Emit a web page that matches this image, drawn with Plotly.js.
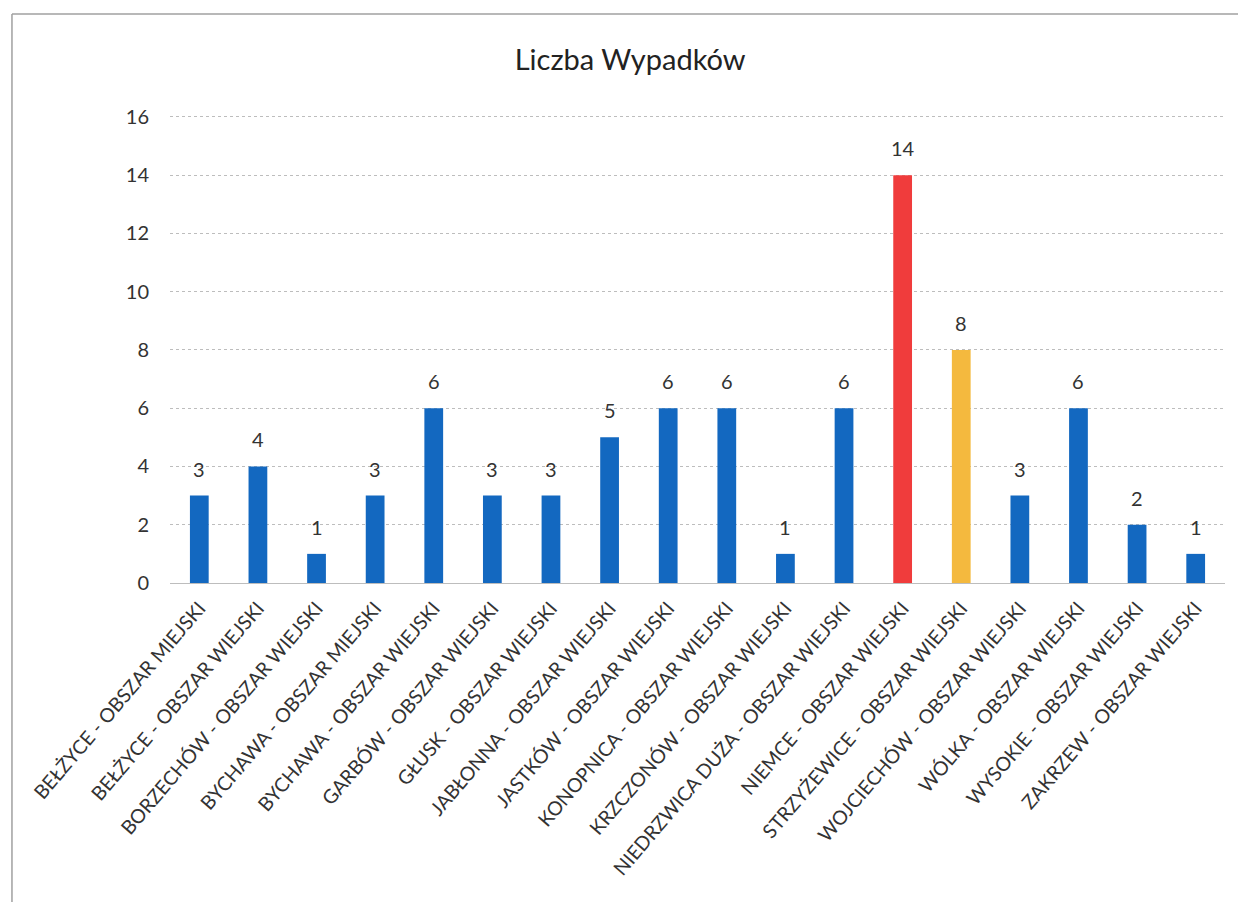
<!DOCTYPE html>
<html>
<head>
<meta charset="utf-8">
<script src="https://cdn.plot.ly/plotly-3.0.1.min.js"></script>
<style>html,body{margin:0;padding:0;background:#fff;}#chart{width:1238px;height:902px;}</style>
</head>
<body>
<div id="chart"></div>
<script>
const categories = [
  "BEŁŻYCE - OBSZAR MIEJSKI",
  "BEŁŻYCE - OBSZAR WIEJSKI",
  "BORZECHÓW - OBSZAR WIEJSKI",
  "BYCHAWA - OBSZAR MIEJSKI",
  "BYCHAWA - OBSZAR WIEJSKI",
  "GARBÓW - OBSZAR WIEJSKI",
  "GŁUSK - OBSZAR WIEJSKI",
  "JABŁONNA - OBSZAR WIEJSKI",
  "JASTKÓW - OBSZAR WIEJSKI",
  "KONOPNICA - OBSZAR WIEJSKI",
  "KRZCZONÓW - OBSZAR WIEJSKI",
  "NIEDRZWICA DUŻA - OBSZAR WIEJSKI",
  "NIEMCE - OBSZAR WIEJSKI",
  "STRZYŻEWICE - OBSZAR WIEJSKI",
  "WOJCIECHÓW - OBSZAR WIEJSKI",
  "WÓLKA - OBSZAR WIEJSKI",
  "WYSOKIE - OBSZAR WIEJSKI",
  "ZAKRZEW - OBSZAR WIEJSKI"
];
const values = [3, 4, 1, 3, 6, 3, 3, 5, 6, 6, 1, 6, 14, 8, 3, 6, 2, 1];
const barColors = ["#1368c0","#1368c0","#1368c0","#1368c0","#1368c0","#1368c0","#1368c0","#1368c0","#1368c0","#1368c0","#1368c0","#1368c0","#f03c3c","#f4b93e","#1368c0","#1368c0","#1368c0","#1368c0"];
const yTicks = [0, 2, 4, 6, 8, 10, 12, 14, 16];

const FONT = "Lato, 'Open Sans', sans-serif";

const trace = {
  type: "bar",
  x: categories,
  y: values,
  marker: {color: barColors},
  hoverinfo: "x+y"
};

const labels = categories.map((c, i) => ({
  x: c, y: values[i], xref: "x", yref: "y",
  text: String(values[i]), showarrow: false,
  yanchor: "middle", yshift: 27,
  font: {family: FONT, size: 20, color: "#333"}
}));

const layout = {
  width: 1238, height: 902,
  paper_bgcolor: "#fff", plot_bgcolor: "#fff",
  margin: {l: 170, r: 13, t: 114, b: 319},
  bargap: 0.68,
  showlegend: false,
  title: {text: "Liczba Wypadków", x: 0.509, xanchor: "center", y: 0.934, yanchor: "middle",
          font: {family: FONT, size: 29, color: "#222"}},
  xaxis: {
    tickangle: -49.5,
    tickfont: {family: FONT, size: 19.5, color: "#333"},
    showgrid: false, showline: false, ticks: "", ticklabelstandoff: 9,
    fixedrange: true
  },
  yaxis: {
    range: [0, 16.1], tickvals: yTicks, ticktext: yTicks.map(String),
    tickfont: {family: FONT, size: 20, color: "#333"},
    showgrid: true, gridcolor: "#bdbdbd", griddash: "dot", gridwidth: 1,
    zeroline: true, zerolinecolor: "#bdbdbd", zerolinewidth: 1,
    showline: false, ticks: "", ticklabelstandoff: 20,
    fixedrange: true
  },
  annotations: labels,
  shapes: [
    {type: "line", xref: "paper", yref: "paper", x0: -0.1498, x1: 1.02, y0: 1.2132, y1: 1.2132,
     line: {color: "#a0a0a0", width: 1.5}, layer: "below"},
    {type: "line", xref: "paper", yref: "paper", x0: -0.1498, x1: -0.1498, y0: 1.2132, y1: -0.7,
     line: {color: "#a0a0a0", width: 1.5}, layer: "below"}
  ]
};

Plotly.newPlot("chart", [trace], layout, {displayModeBar: false, staticPlot: true});
</script>
</body>
</html>
